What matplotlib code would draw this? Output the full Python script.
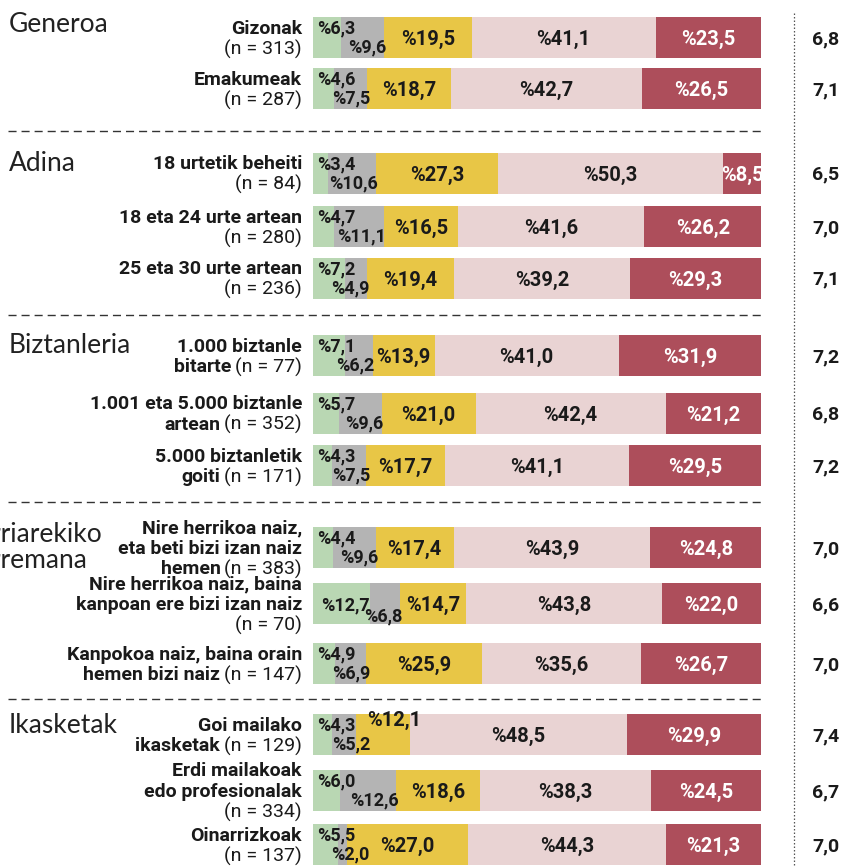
import matplotlib
matplotlib.use("Agg")
import matplotlib.pyplot as plt
import numpy as np

# sections and the rows that belong to each
sections = ["Generoa", "Adina", "Biztanleria", "Herriarekiko\nharremana", "Ikasketak"]
rows = [
    "Gizonak\n", "Emakumeak\n",
    "18 urtetik beheiti\n", "18 eta 24 urte artean\n", "25 eta 30 urte artean\n",
    "1.000 biztanle\nbitarte", "1.001 eta 5.000 biztanle\nartean", "5.000 biztanletik\ngoiti",
    "Nire herrikoa naiz,\neta beti bizi izan naiz\nhemen",
    "Nire herrikoa naiz, baina\nkanpoan ere bizi izan naiz\n",
    "Kanpokoa naiz, baina orain\nhemen bizi naiz",
    "Goi mailako\nikasketak", "Erdi mailakoak\nedo profesionalak\n", "Oinarrizkoak\n",
]
sample_n = [313, 287, 84, 280, 236, 77, 352, 171, 383, 70, 147, 129, 334, 137]

# answer shares (%), lowest to highest level
share_1 = [6.3, 4.6, 3.4, 4.7, 7.2, 7.1, 5.7, 4.3, 4.4, 12.7, 4.9, 4.3, 6.0, 5.5]
share_2 = [9.6, 7.5, 10.6, 11.1, 4.9, 6.2, 9.6, 7.5, 9.6, 6.8, 6.9, 5.2, 12.6, 2.0]
share_3 = [19.5, 18.7, 27.3, 16.5, 19.4, 13.9, 21.0, 17.7, 17.4, 14.7, 25.9, 12.1, 18.6, 27.0]
share_4 = [41.1, 42.7, 50.3, 41.6, 39.2, 41.0, 42.4, 41.1, 43.9, 43.8, 35.6, 48.5, 38.3, 44.3]
share_5 = [23.5, 26.5, 8.5, 26.2, 29.3, 31.9, 21.2, 29.5, 24.8, 22.0, 26.7, 29.9, 24.5, 21.3]
mean_score = [6.8, 7.1, 6.5, 7.0, 7.1, 7.2, 6.8, 7.2, 7.0, 6.6, 7.0, 7.4, 6.7, 7.0]

colors = ["#b9d7b3", "#b4b4b4", "#e8c646", "#e9d3d3", "#ad4e5b"]
INK = "#1a1a1a"

# layout, in pixels from the top-left corner
W, H = 843, 866
row_y = [37.5, 88.5, 173, 226.5, 278, 355.5, 413, 465.5, 547.5, 603.5, 663.5, 734.5, 790.5, 844.5]
sep_y = [131, 315, 502, 699]
title_y = [32.5, 171, 353, 542, 733]
bar_x0, bar_x1 = 313, 761
label_x = 302

FONT = ["Roboto", "DejaVu Sans"]
TITLE_FONT = ["Lato", "DejaVu Sans"]


def pct(v):
    return "%" + f"{v:.1f}".replace(".", ",")


fig = plt.figure(figsize=(W / 100, H / 100), dpi=100)
ax = fig.add_axes([0, 0, 1, 1])
ax.set_xlim(0, W); ax.set_ylim(H, 0); ax.axis("off")
bx = fig.add_axes([bar_x0 / W, 0, (bar_x1 - bar_x0) / W, 1])
bx.set_xlim(0, 100); bx.set_ylim(H, 0); bx.axis("off")
renderer = fig.canvas.get_renderer()

# stacked bars
shares = np.array([share_1, share_2, share_3, share_4, share_5])
left = np.zeros(len(rows))
for k in range(5):
    bx.barh(row_y, shares[k], left=left, height=41, color=colors[k], linewidth=0)
    left += shares[k]

starts = np.vstack([np.zeros(len(rows)), np.cumsum(shares, axis=0)[:-1]])
min_gray_edge = (370 - bar_x0) / (bar_x1 - bar_x0) * 100
# (row, segment) -> (dx in %, dy in px) for hand-placed labels
nudge = {(11, 2): (2.6, -16), (9, 0): (0.8, 11), (9, 1): (0, 3)}
for i, y in enumerate(row_y):
    # the two small shares sit as a staggered pair
    dx, dy = nudge.get((i, 0), (0, 0))
    bx.text(starts[0, i] + 1.0 + dx, y - 4 + dy, pct(share_1[i]), ha="left", va="baseline",
            fontsize=13, fontweight="bold", family=FONT, color=INK)
    dx, dy = nudge.get((i, 1), (0, 0))
    gx = max(starts[1, i] + share_2[i] + 0.5, min_gray_edge)
    bx.text(gx + dx, y + 15 + dy, pct(share_2[i]), ha="right", va="baseline",
            fontsize=13, fontweight="bold", family=FONT, color=INK)
    for k in (2, 3, 4):
        dx, dy = nudge.get((i, k), (0, 0))
        bx.text(starts[k, i] + shares[k, i] / 2 + dx, y + 7.5 + dy, pct(shares[k, i]),
                ha="center", va="baseline", fontsize=14.5, fontweight="bold", family=FONT,
                color="white" if k == 4 else INK)
    ax.text(826, y + 6.5, f"{mean_score[i]:.1f}".replace(".", ","), ha="center",
            va="baseline", fontsize=14, fontweight="bold", family=FONT, color=INK)

# row labels: bold name, regular sample size on the last line
pitch = 20.5
for name, n, y in zip(rows, sample_n, row_y):
    lines = name.split("\n")
    nl = len(lines)
    for j, line in enumerate(lines):
        yb = y + (j - (nl - 1) / 2) * pitch + 6.5
        xr = label_x
        if j == nl - 1:
            t = ax.text(xr, yb, f"(n = {n})", ha="right", va="baseline", fontsize=14,
                        family=FONT, color=INK)
            xr -= t.get_window_extent(renderer).width + 4
        if line:
            ax.text(xr, yb, line, ha="right", va="baseline", fontsize=14,
                    fontweight="bold", family=FONT, color=INK)

# section titles
for title, yb in zip(sections, title_y):
    parts = title.split("\n")
    for j, line in enumerate(parts):
        x = 9
        if len(parts) > 1:
            # long title starts off the left edge
            probe = ax.text(0, 0, line[:3], fontsize=19, family=TITLE_FONT)
            x = -probe.get_window_extent(renderer).width + 1
            probe.remove()
        ax.text(x, yb + j * 26, line, ha="left", va="baseline", fontsize=19,
                family=TITLE_FONT, color="#222222")

# dashed separators and dotted divider
ax.hlines(sep_y, 8, bar_x1, colors="#333333", linewidth=1.0, linestyles=(0, (5.8, 3.6)))
ax.plot([794, 794], [13, H], color="#555555", linewidth=0.9, linestyle=(0, (1.2, 1.6)))

fig.savefig("out.png", dpi=100)
